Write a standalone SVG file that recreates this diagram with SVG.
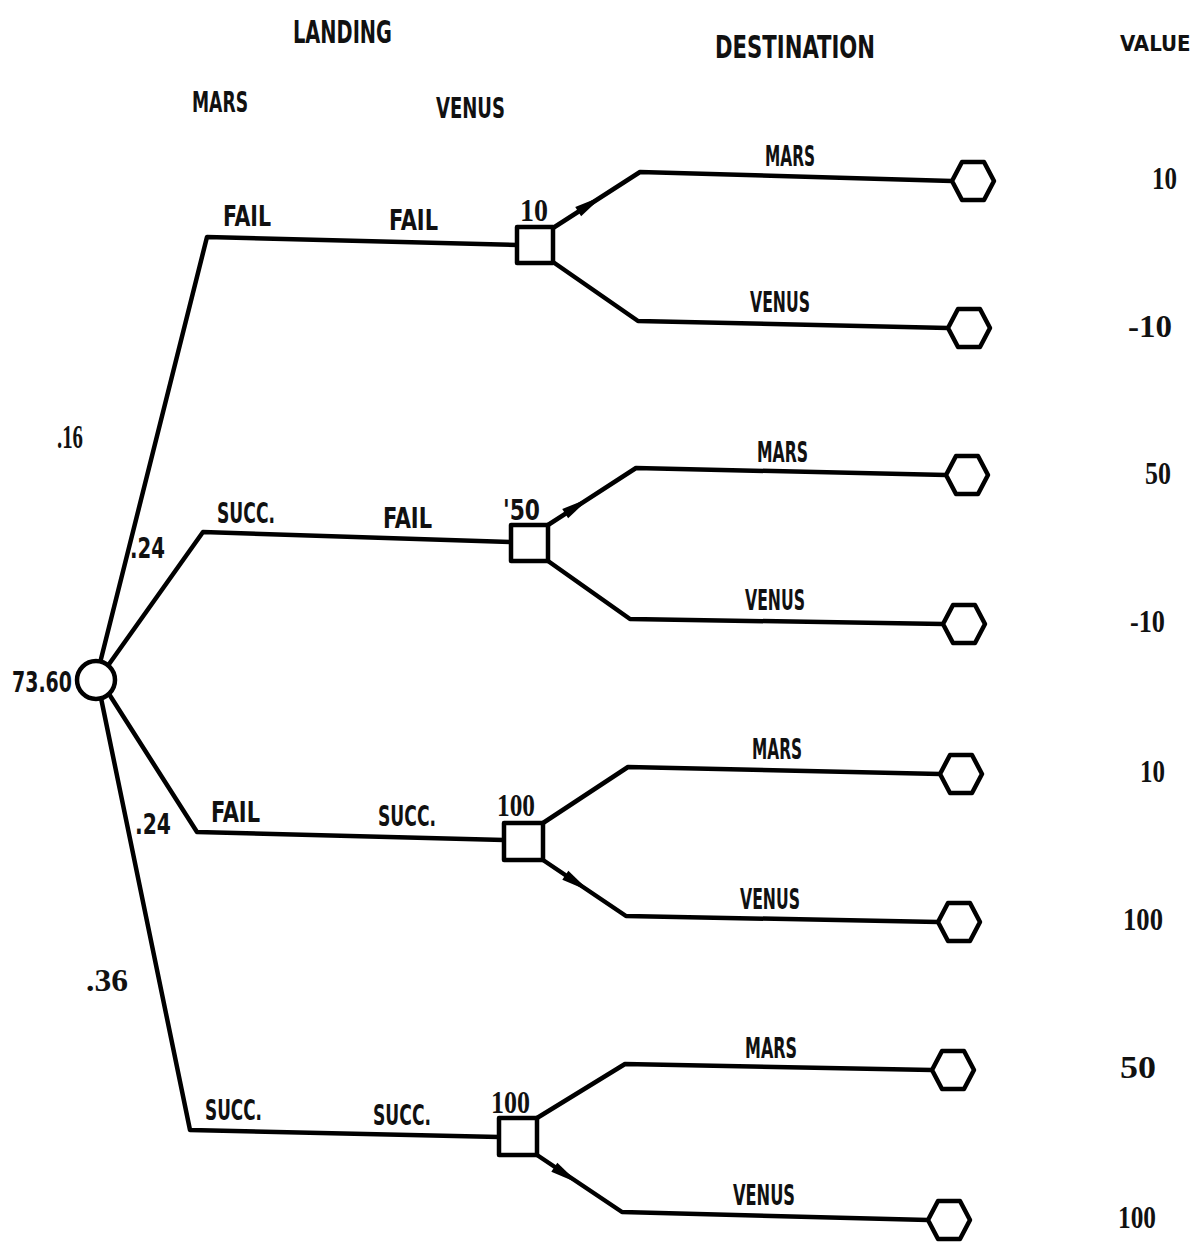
<svg xmlns="http://www.w3.org/2000/svg" xmlns:xlink="http://www.w3.org/1999/xlink" width="1197" height="1243" viewBox="0 0 1197 1243">
<style>
.l{fill:none;stroke:#000;stroke-width:4.5;stroke-linejoin:round;stroke-linecap:round}
.n{fill:#fff;stroke:#000;stroke-width:4.5;stroke-linejoin:round}
.t{font-family:"DejaVu Sans Condensed","Liberation Sans Narrow","Liberation Sans",sans-serif;font-size:29px;font-weight:bold;fill:#111}
.h{font-size:32px}
.v{font-family:"Liberation Serif",serif;font-size:31px;font-weight:bold;fill:#111}
</style>
<defs>
<polygon id="hex" points="-21,0 -11,-19 11,-19 21,0 11,19 -11,19"/>
<path id="arr" d="M-14,-5.5 L15,0 L-14,5.5 Z"/>
</defs>
<rect width="1197" height="1243" fill="#fff"/>
<g id="headers">
<text class="t h" x="293" y="43" textLength="99" lengthAdjust="spacingAndGlyphs">LANDING</text>
<text class="t h" x="715" y="58" textLength="160" lengthAdjust="spacingAndGlyphs">DESTINATION</text>
<text class="t" x="1120" y="51" style="font-size:22px">VALUE</text>
<text class="t" x="192" y="112" textLength="56" lengthAdjust="spacingAndGlyphs">MARS</text>
<text class="t" x="436" y="118" textLength="69" lengthAdjust="spacingAndGlyphs">VENUS</text>
</g>
<g id="connectors">
<polyline class="l" points="100,663 207,237 518,245"/>
<polyline class="l" points="107,667 203,532 511,542"/>
<polyline class="l" points="109,694 197,832 504,840"/>
<polyline class="l" points="101,698 190,1130 499,1137"/>
<polyline class="l" points="553,228 640,172 952,181"/>
<polyline class="l" points="553,262 638,321 948,328"/>
<polyline class="l" points="548,525 636,468 946,475"/>
<polyline class="l" points="548,561 630,619 943,624"/>
<polyline class="l" points="543,823 628,767 940,774"/>
<polyline class="l" points="543,860 626,916 938,922"/>
<polyline class="l" points="537,1118 625,1064 932,1070"/>
<polyline class="l" points="537,1155 622,1212 928,1220"/>
<use href="#arr" xlink:href="#arr" transform="translate(590,204) rotate(-32.5)"/>
<use href="#arr" xlink:href="#arr" transform="translate(577,506) rotate(-32.5)"/>
<use href="#arr" xlink:href="#arr" transform="translate(577,883) rotate(33.5)"/>
<use href="#arr" xlink:href="#arr" transform="translate(566,1175) rotate(33.5)"/>
</g>
<g id="root">
<circle class="n" cx="96" cy="680" r="19"/>
<text class="t" x="12" y="692" textLength="60" lengthAdjust="spacingAndGlyphs">73.60</text>
</g>
<g id="probs">
<text class="v" x="57" y="448" style="font-size:34px" textLength="26" lengthAdjust="spacingAndGlyphs">.16</text>
<text class="t" x="130" y="558" textLength="35" lengthAdjust="spacingAndGlyphs">.24</text>
<text class="t" x="135" y="834" textLength="36" lengthAdjust="spacingAndGlyphs">.24</text>
<text class="v" x="86" y="991" textLength="42" lengthAdjust="spacingAndGlyphs">.36</text>
</g>
<g id="branch-labels">
<text class="t" x="223" y="226" textLength="48" lengthAdjust="spacingAndGlyphs">FAIL</text>
<text class="t" x="389" y="230" textLength="49" lengthAdjust="spacingAndGlyphs">FAIL</text>
<text class="t" x="217" y="523" textLength="58" lengthAdjust="spacingAndGlyphs">SUCC.</text>
<text class="t" x="383" y="528" textLength="49" lengthAdjust="spacingAndGlyphs">FAIL</text>
<text class="t" x="211" y="822" textLength="49" lengthAdjust="spacingAndGlyphs">FAIL</text>
<text class="t" x="378" y="826" textLength="58" lengthAdjust="spacingAndGlyphs">SUCC.</text>
<text class="t" x="205" y="1120" textLength="57" lengthAdjust="spacingAndGlyphs">SUCC.</text>
<text class="t" x="373" y="1125" textLength="58" lengthAdjust="spacingAndGlyphs">SUCC.</text>
</g>
<g id="d1"><rect class="n" x="517" y="227" width="36" height="36"/><text class="v" x="520" y="221" textLength="28" lengthAdjust="spacingAndGlyphs">10</text></g>
<g id="d2"><rect class="n" x="511" y="525" width="37" height="36"/><text class="t" x="503" y="520" textLength="37" lengthAdjust="spacingAndGlyphs">'50</text></g>
<g id="d3"><rect class="n" x="504" y="823" width="39" height="37"/><text class="v" x="497" y="816" textLength="38" lengthAdjust="spacingAndGlyphs">100</text></g>
<g id="d4"><rect class="n" x="499" y="1118" width="38" height="37"/><text class="v" x="491" y="1113" textLength="39" lengthAdjust="spacingAndGlyphs">100</text></g>
<g id="dest-labels">
<text class="t" x="765" y="166" textLength="50" lengthAdjust="spacingAndGlyphs">MARS</text>
<text class="t" x="750" y="312" textLength="60" lengthAdjust="spacingAndGlyphs">VENUS</text>
<text class="t" x="757" y="462" textLength="51" lengthAdjust="spacingAndGlyphs">MARS</text>
<text class="t" x="745" y="610" textLength="60" lengthAdjust="spacingAndGlyphs">VENUS</text>
<text class="t" x="752" y="759" textLength="50" lengthAdjust="spacingAndGlyphs">MARS</text>
<text class="t" x="740" y="909" textLength="60" lengthAdjust="spacingAndGlyphs">VENUS</text>
<text class="t" x="745" y="1058" textLength="52" lengthAdjust="spacingAndGlyphs">MARS</text>
<text class="t" x="733" y="1205" textLength="62" lengthAdjust="spacingAndGlyphs">VENUS</text>
</g>
<g id="t1"><use class="n" href="#hex" xlink:href="#hex" x="973" y="181"/></g>
<g id="t2"><use class="n" href="#hex" xlink:href="#hex" x="969" y="328"/></g>
<g id="t3"><use class="n" href="#hex" xlink:href="#hex" x="967" y="475"/></g>
<g id="t4"><use class="n" href="#hex" xlink:href="#hex" x="964" y="624"/></g>
<g id="t5"><use class="n" href="#hex" xlink:href="#hex" x="961" y="774"/></g>
<g id="t6"><use class="n" href="#hex" xlink:href="#hex" x="959" y="922"/></g>
<g id="t7"><use class="n" href="#hex" xlink:href="#hex" x="953" y="1070"/></g>
<g id="t8"><use class="n" href="#hex" xlink:href="#hex" x="949" y="1220"/></g>
<g id="values">
<text class="v" x="1152" y="189" textLength="25" lengthAdjust="spacingAndGlyphs">10</text>
<text class="v" x="1128" y="337" textLength="44" lengthAdjust="spacingAndGlyphs">-10</text>
<text class="v" x="1145" y="484" textLength="26" lengthAdjust="spacingAndGlyphs">50</text>
<text class="v" x="1130" y="632" textLength="35" lengthAdjust="spacingAndGlyphs">-10</text>
<text class="v" x="1140" y="782" textLength="25" lengthAdjust="spacingAndGlyphs">10</text>
<text class="v" x="1123" y="930" textLength="40" lengthAdjust="spacingAndGlyphs">100</text>
<text class="v" x="1120" y="1078" textLength="36" lengthAdjust="spacingAndGlyphs">50</text>
<text class="v" x="1118" y="1228" textLength="38" lengthAdjust="spacingAndGlyphs">100</text>
</g>
</svg>
